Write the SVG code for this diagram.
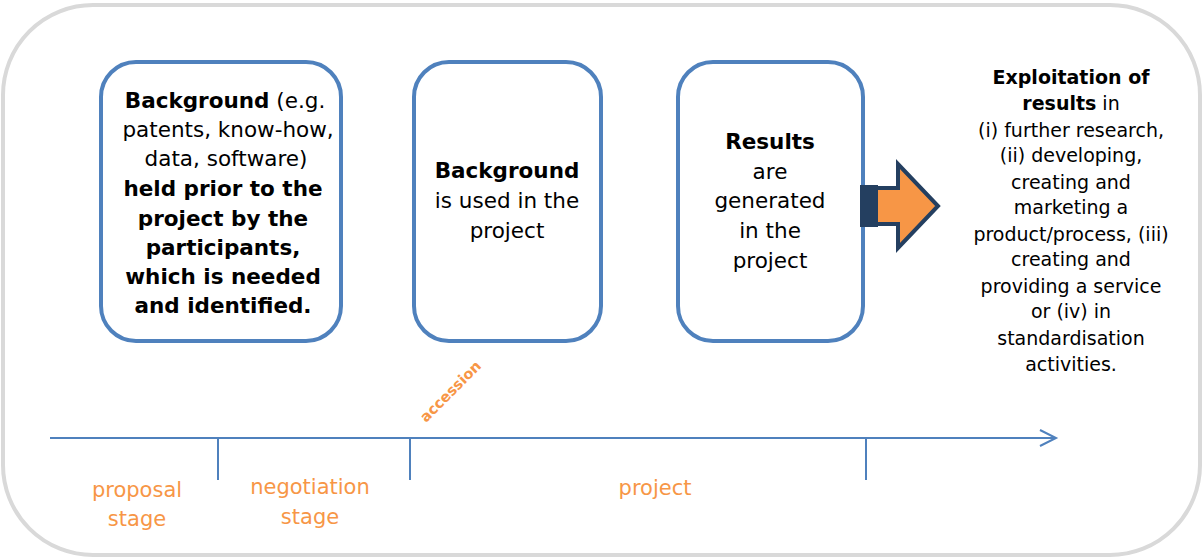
<svg xmlns="http://www.w3.org/2000/svg" width="1204" height="559" viewBox="0 0 1204 559">
<style>
.box{fill:#fff;stroke:#4f81bd;stroke-width:4}
.t{font-family:"DejaVu Sans","Verdana",sans-serif;font-size:21.5px;fill:#000;text-anchor:middle}
.r{font-family:"DejaVu Sans","Verdana",sans-serif;font-size:19px;fill:#000;text-anchor:middle}
.b{font-weight:bold}
.o{font-family:"DejaVu Sans","Verdana",sans-serif;font-size:21px;fill:#f79646;text-anchor:middle}
.acc{font-family:"DejaVu Sans","Verdana",sans-serif;font-size:14.5px;font-weight:bold;fill:#f79646;text-anchor:middle}
.tl{stroke:#4f81bd;stroke-width:2;fill:none}
</style>
<defs>
<clipPath id="c1"><rect x="101" y="62" width="238" height="280"/></clipPath>
</defs>
<rect x="3" y="5" width="1197" height="550" rx="90" ry="90" fill="#fff" stroke="#d9d9d9" stroke-width="4"/>
<g id="node-background">
<rect class="box" x="101" y="62" width="240" height="279" rx="35"/>
<g clip-path="url(#c1)">
<text class="t" x="225" y="108"><tspan class="b">Background</tspan> (e.g.</text>
<text class="t" x="228" y="137">patents, know-how,</text>
<text class="t" x="226" y="166">data, software)</text>
<text class="t b" x="223" y="196">held prior to the</text>
<text class="t b" x="223" y="226">project by the</text>
<text class="t b" x="223" y="255">participants,</text>
<text class="t b" x="223" y="284">which is needed</text>
<text class="t b" x="223" y="313">and identified.</text>
</g>
</g>
<g id="node-used">
<rect class="box" x="414" y="62" width="187" height="279" rx="35"/>
<text class="t b" x="507" y="178">Background</text>
<text class="t" x="507" y="208">is used in the</text>
<text class="t" x="507" y="238">project</text>
</g>
<g id="node-results">
<rect class="box" x="678" y="62" width="185" height="279" rx="35"/>
<text class="t b" x="770" y="149">Results</text>
<text class="t" x="770" y="179">are</text>
<text class="t" x="770" y="208">generated</text>
<text class="t" x="770" y="238">in the</text>
<text class="t" x="770" y="268">project</text>
</g>
<g id="node-exploitation">
<text class="r b" x="1071" y="84">Exploitation of</text>
<text class="r" x="1071" y="110"><tspan class="b">results</tspan> in</text>
<text class="r" x="1071" y="137">(i) further research,</text>
<text class="r" x="1071" y="162">(ii) developing,</text>
<text class="r" x="1071" y="189">creating and</text>
<text class="r" x="1071" y="214">marketing a</text>
<text class="r" x="1071" y="241">product/process, (iii)</text>
<text class="r" x="1071" y="266">creating and</text>
<text class="r" x="1071" y="293">providing a service</text>
<text class="r" x="1071" y="318">or (iv) in</text>
<text class="r" x="1071" y="345">standardisation</text>
<text class="r" x="1071" y="371">activities.</text>
</g>
<g id="connectors">
<rect x="860" y="185" width="18" height="42" fill="#243f60"/>
<polygon points="876,188 898,188 898,164 938,206 898,248 898,224 876,224" fill="#f79646" stroke="#243f60" stroke-width="4" stroke-linejoin="miter"/>
<line class="tl" x1="50" y1="438" x2="1055" y2="438"/>
<polyline class="tl" points="1040,430 1056,438 1040,446"/>
<line class="tl" x1="218" y1="438" x2="218" y2="480"/>
<line class="tl" x1="410" y1="438" x2="410" y2="480"/>
<line class="tl" x1="866" y1="438" x2="866" y2="480"/>
</g>
<g id="labels">
<text class="o" x="137" y="497">proposal</text>
<text class="o" x="137" y="526">stage</text>
<text class="o" x="310" y="494">negotiation</text>
<text class="o" x="310" y="524">stage</text>
<text class="o" x="655" y="495">project</text>
<text class="acc" x="0" y="0" transform="translate(454,395) rotate(-45)">accession</text>
</g>
</svg>
